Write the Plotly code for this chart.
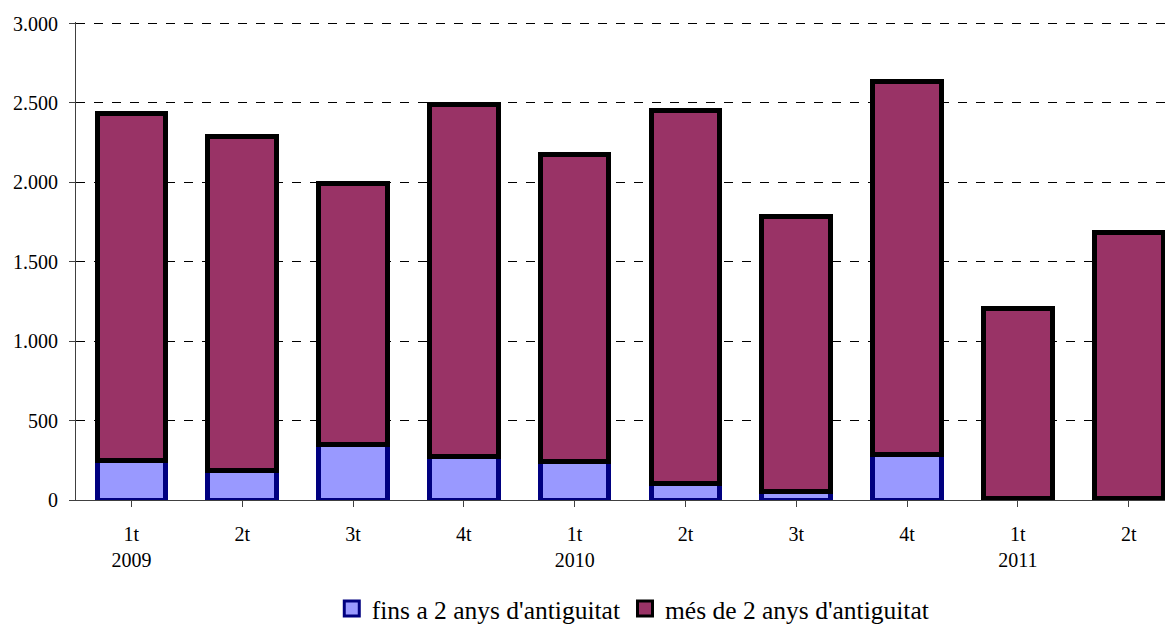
import plotly.graph_objects as go

# trimestres
trimestres = ["1t<br>2009", "2t", "3t", "4t", "1t<br>2010", "2t", "3t", "4t", "1t<br>2011", "2t"]
fins_2_anys = [250, 186, 350, 274, 243, 104, 54, 284, 8, 12]
mes_2_anys = [2181, 2104, 1644, 2215, 1932, 2349, 1730, 2352, 1197, 1672]

noms = ["fins a 2 anys d'antiguitat", "més de 2 anys d'antiguitat"]
colors = ["#9999FF", "#993366"]
vores = ["#000080", "#000000"]

x = list(range(len(trimestres)))
serif = "Liberation Serif, Times New Roman, serif"

fig = go.Figure()
for vals, nom, c, v in zip([fins_2_anys, mes_2_anys], noms, colors, vores):
    fig.add_trace(go.Bar(
        x=x, y=vals, name=nom, showlegend=False,
        marker=dict(color=c, line=dict(color=v, width=5)),
    ))
# llegenda amb quadrats
for nom, c, v in zip(noms, colors, vores):
    fig.add_trace(go.Scatter(
        x=[None], y=[None], mode="markers", name=nom,
        marker=dict(symbol="square", size=15, color=c, line=dict(color=v, width=3)),
    ))

fig.update_layout(
    barmode="stack",
    bargap=0.38,
    width=1165, height=628,
    margin=dict(l=68, r=0, t=14, b=136),
    paper_bgcolor="white", plot_bgcolor="white",
    font=dict(family=serif, size=20, color="black"),
    separators=",.",
    showlegend=True,
    legend=dict(orientation="h", x=0.508, xanchor="center", y=-0.228, yanchor="middle",
                font=dict(family=serif, size=25.5, color="black"),
                traceorder="normal", itemwidth=30, itemsizing="trace",
                tracegroupgap=0),
    xaxis=dict(
        tickmode="array", tickvals=x, ticktext=trimestres,
        range=[-0.5, 9.40],
        showline=True, linecolor="#404040", linewidth=1,
        ticks="outside", ticklen=6, tickcolor="#404040", tickson="boundaries",
        ticklabelstandoff=10,
        showgrid=False, zeroline=False,
    ),
    yaxis=dict(
        range=[0, 3010], dtick=500, tickformat=",d",
        showline=True, linecolor="#404040", linewidth=1,
        ticks="outside", ticklen=6, tickcolor="#404040",
        ticklabelstandoff=7,
        showgrid=True, gridcolor="black", gridwidth=1, griddash="dash",
        zeroline=False,
    ),
)

fig.write_html("out.html")
